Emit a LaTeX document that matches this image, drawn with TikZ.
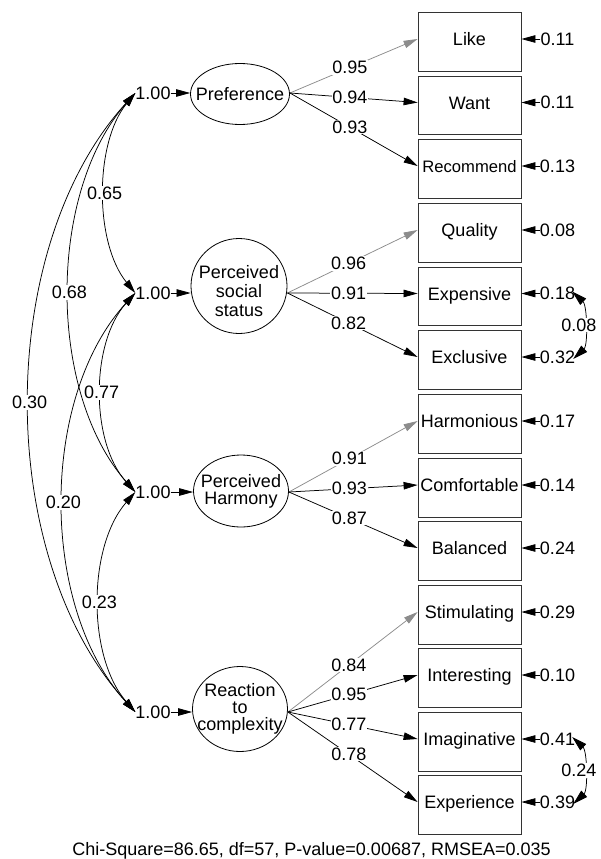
\documentclass[tikz,border=0pt]{standalone}
\usepackage{fontspec}
\setmainfont{Liberation Sans}
\usetikzlibrary{arrows.meta,shapes.geometric}
\definecolor{lg}{gray}{0.55}
\definecolor{bx}{gray}{0.2}
\begin{document}
\begin{tikzpicture}[x=1pt,y=-1pt,
  every node/.style={font=\fontsize{18}{18}\selectfont, inner sep=0pt},
  obs/.style={draw=bx, line width=0.8pt, minimum width=103pt, minimum height=58.5pt, text height=13pt, text depth=6pt},
  lat/.style={draw, ellipse, line width=0.8pt, inner sep=0pt},
  val/.style={fill=white, inner sep=0.8pt},
  ln/.style={line width=0.75pt},
  tip/.style={-{Triangle[length=14pt,width=7.5pt]}},
  dtip/.style={{Triangle[length=14pt,width=7.5pt]}-{Triangle[length=14pt,width=7.5pt]}},
  etip/.style={{Triangle[length=15pt,width=8.5pt]}-{Triangle[length=15pt,width=8.5pt]}},
  gtip/.style={draw=lg, -{Triangle[length=14pt,width=7.5pt,fill=lg]}},
]
\useasboundingbox (0,0) rectangle (600,859);

% observed variables and error terms
\foreach \i/\y/\t/\e in {1/42/Like/0.11, 2/105.5/Want/0.11, 4/233/Quality/0.08,
   5/296.5/Expensive/0.18, 6/360/Exclusive/0.32, 7/424/Harmonious/0.17,
   8/488/Comfortable/0.14, 9/551/Balanced/0.24, 10/615/Stimulating/0.29,
   11/678/Interesting/0.10, 12/742/Imaginative/0.41, 13/805/Experience/0.39}{
  \node[obs] (b\i) at (469.5,\y) {\t};
  \node (e\i) at (557.5,\y-3) {\e};
  \draw[ln,tip] (e\i.west) -- (e\i.west -| b\i.east);
}
\node[obs] (b3) at (469.5,169) {\fontsize{16.6}{17}\selectfont Recommend};
\node (e3) at (557.5,166) {0.13};
\draw[ln,tip] (e3.west) -- (e3.west -| b3.east);

% latent variables
\node[lat, minimum width=99pt, minimum height=61pt] (L1) at (240,94) {};
\node (L1t) at (L1) {Preference};
\node[lat, minimum width=96pt, minimum height=95pt] (L2) at (239,286) {};
\node[align=center, font=\fontsize{18}{19}\selectfont] (L2t) at (239,291) {Perceived\\social\\status};
\node[lat, minimum width=95pt, minimum height=72pt] (L3) at (241,491) {};
\node[align=center, font=\fontsize{18}{17}\selectfont] (L3t) at (241,491.5) {Perceived\\Harmony};
\node[lat, minimum width=95pt, minimum height=85pt] (L4) at (240,709) {};
\node[align=center, font=\fontsize{18}{17}\selectfont] (L4t) at (240,709) {Reaction\\to\\complexity};

% variances
\node (o1) at (153,93) {1.00};
\node (o2) at (153,293) {1.00};
\node (o3) at (153,492) {1.00};
\node (o4) at (153,712) {1.00};
\foreach \k in {1,2,3,4}{
  \draw[ln,tip] (o\k.east) -- (o\k.east -| L\k.west);
}

% loadings
\coordinate (s1) at (L1.east |- o1);
\coordinate (s2) at (L2.east |- o2);
\coordinate (s3) at (L3.east |- o3);
\coordinate (s4) at (L4.east |- o4);
\draw[ln,gtip] (s1) -- ([yshift=3pt]b1.west) node[val,pos=0.47,text=black]{0.95};
\draw[ln,tip] (s1) -- ([yshift=3pt]b2.west) node[val,pos=0.47]{0.94};
\draw[ln,tip] (s1) -- ([yshift=3pt]b3.west) node[val,pos=0.47]{0.93};
\draw[ln,gtip] (s2) -- ([yshift=3pt]b4.west) node[val,pos=0.47,text=black]{0.96};
\draw[ln,tip] (s2) -- ([yshift=3pt]b5.west) node[val,pos=0.47]{0.91};
\draw[ln,tip] (s2) -- ([yshift=3pt]b6.west) node[val,pos=0.47]{0.82};
\draw[ln,gtip] (s3) -- ([yshift=3pt]b7.west) node[val,pos=0.47,text=black]{0.91};
\draw[ln,tip] (s3) -- ([yshift=3pt]b8.west) node[val,pos=0.47]{0.93};
\draw[ln,tip] (s3) -- ([yshift=3pt]b9.west) node[val,pos=0.47]{0.87};
\draw[ln,gtip] (s4) -- ([yshift=3pt]b10.west) node[val,pos=0.47,text=black]{0.84};
\draw[ln,tip] (s4) -- ([yshift=3pt]b11.west) node[val,pos=0.47]{0.95};
\draw[ln,tip] (s4) -- ([yshift=3pt]b12.west) node[val,pos=0.47]{0.77};
\draw[ln,tip] (s4) -- ([yshift=3pt]b13.west) node[val,pos=0.47]{0.78};

% covariances between latent variables
\draw[ln,dtip] (o1.west) .. controls +(-41,50) and +(-41,-50) .. (o2.west) node[val,pos=0.5]{0.65};
\draw[ln,dtip] (o1.west) .. controls +(-88,100) and +(-88,-100) .. (o3.west) node[val,pos=0.5]{0.68};
\draw[ln,dtip] (o1.west) .. controls +(-141,155) and +(-141,-155) .. (o4.west) node[val,pos=0.5]{0.30};
\draw[ln,dtip] (o2.west) .. controls +(-45,50) and +(-45,-50) .. (o3.west) node[val,pos=0.5]{0.77};
\draw[ln,dtip] (o2.west) .. controls +(-96,105) and +(-96,-105) .. (o4.west) node[val,pos=0.5]{0.20};
\draw[ln,dtip] (o3.west) .. controls +(-48,55) and +(-48,-55) .. (o4.west) node[val,pos=0.5]{0.23};

% error covariances
\draw[ln,etip] ([xshift=-3pt,yshift=2pt]e5.east) .. controls +(15,14) and +(15,-14) .. ([xshift=-2pt,yshift=-2pt]e6.east) node[val,pos=0.5,xshift=-5pt]{0.08};
\draw[ln,etip] ([xshift=-3pt,yshift=2pt]e12.east) .. controls +(15,14) and +(15,-14) .. ([xshift=-2pt,yshift=-2pt]e13.east) node[val,pos=0.5,xshift=-5pt]{0.24};

% fit statistics
\node[anchor=base] (chi) at (311.5,855) {Chi-Square=86.65, df=57, P-value=0.00687, RMSEA=0.035};
\end{tikzpicture}
\end{document}
